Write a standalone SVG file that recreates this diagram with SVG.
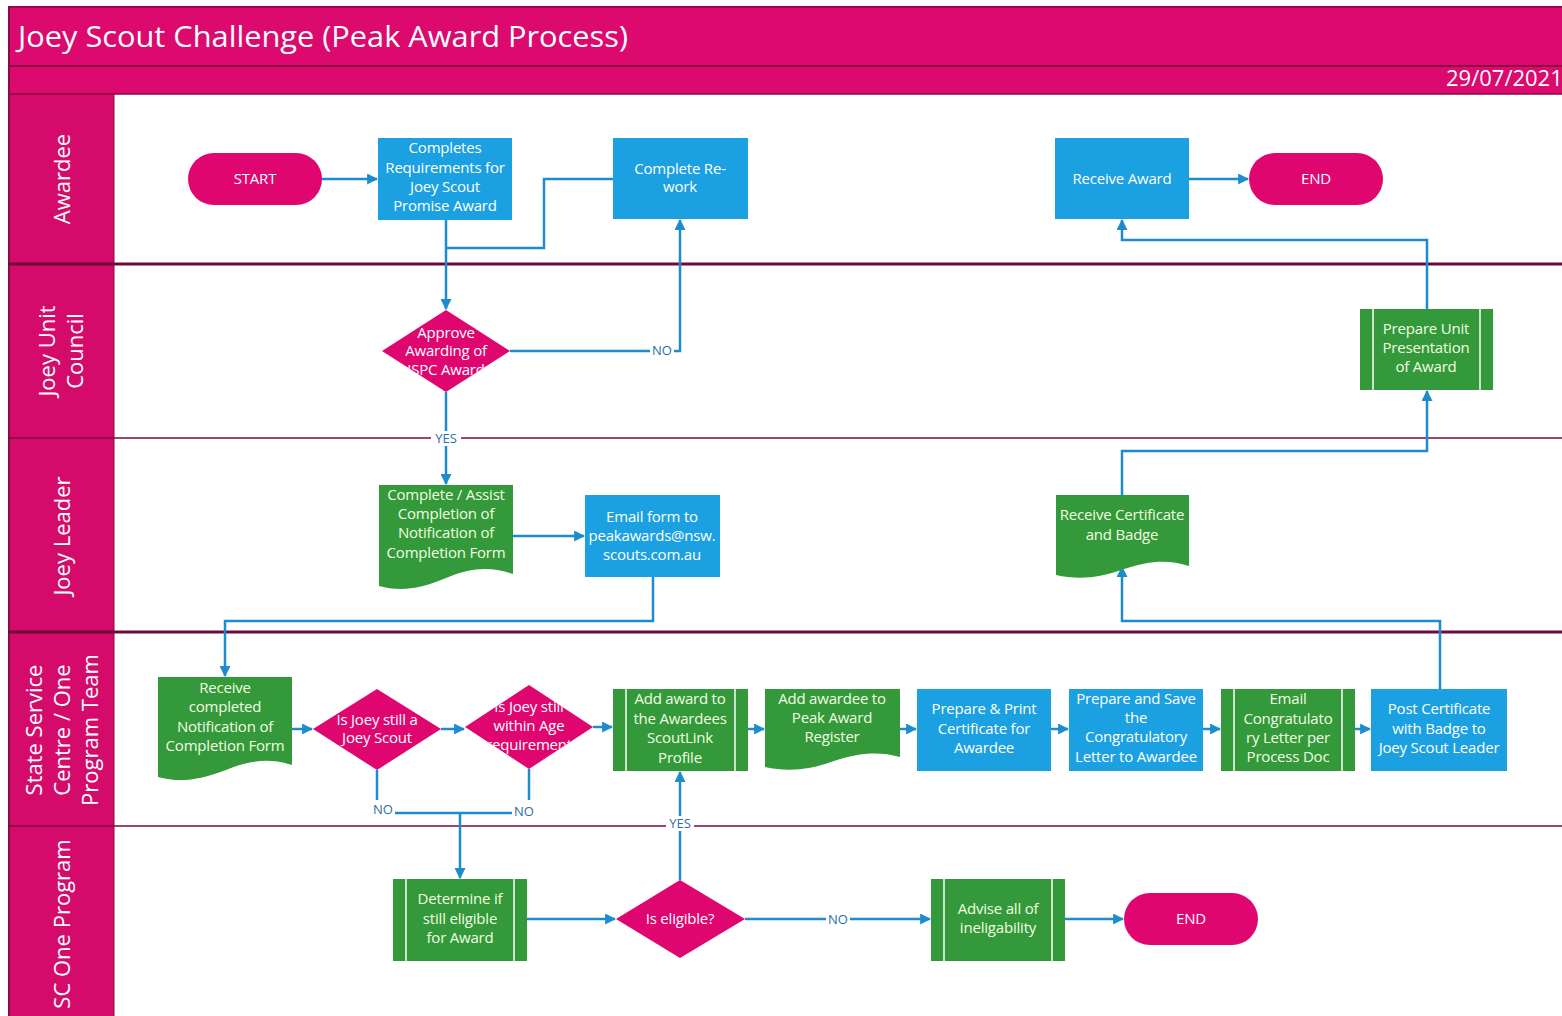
<svg xmlns="http://www.w3.org/2000/svg" width="1562" height="1016" viewBox="0 0 1562 1016">
<style>
.t{font-family:"Open Sans","Noto Sans",sans-serif;font-size:15px;fill:#ffffff;text-anchor:middle;letter-spacing:-0.2px}
.gt{fill:#f2ffe0}
.lbl{font-family:"Open Sans","Noto Sans",sans-serif;font-size:13px;fill:#2a6fa8;text-anchor:middle}
.lane{font-family:"Open Sans","Noto Sans",sans-serif;font-size:22px;fill:#ffffff;text-anchor:middle}
.blue{fill:#1ba0e2}
.green{fill:#33993a}
.pink{fill:#e0066f}
.sub{stroke:#ffffff;stroke-width:1.5}
.c{fill:none;stroke:#1d8ccc;stroke-width:2.5}
.ca{fill:none;stroke:#1d8ccc;stroke-width:2.5;marker-end:url(#arr)}
.lb{fill:#ffffff}
</style>
<defs>
<marker id="arr" viewBox="0 0 10 10" refX="9" refY="5" markerWidth="11" markerHeight="11" markerUnits="userSpaceOnUse" orient="auto">
<path d="M0,0 L10,5 L0,10 z" fill="#1d8ccc"/>
</marker>
<clipPath id="cd1"><polygon points="446,310 510,351 446,392 382,351"/></clipPath>
<clipPath id="cd2"><polygon points="377,689 441,729 377,770 313,729"/></clipPath>
<clipPath id="cd3"><polygon points="529,685 593,727 529,769 465,727"/></clipPath>
</defs>
<rect x="0" y="0" width="1562" height="1016" fill="#ffffff"/>
<g id="frame">
<rect x="8" y="6" width="1560" height="88" fill="#dc0a6e"/>
<rect x="8" y="94" width="106" height="922" fill="#d50b6c"/>
<line x1="8" y1="66" x2="1562" y2="66" stroke="#8a0a45" stroke-width="2"/>
<line x1="8" y1="94" x2="1562" y2="94" stroke="#8a0a45" stroke-width="1.5"/>
<line x1="9" y1="6" x2="9" y2="1016" stroke="#8a0a45" stroke-width="2"/>
<line x1="8" y1="7" x2="1562" y2="7" stroke="#8a0a45" stroke-width="1.5"/>
<line x1="114" y1="94" x2="114" y2="1016" stroke="#8a0a45" stroke-width="1"/>
<line x1="8" y1="264" x2="1562" y2="264" stroke="#6a0a38" stroke-width="3"/>
<line x1="8" y1="438" x2="1562" y2="438" stroke="#7a0a40" stroke-width="1.5"/>
<line x1="8" y1="632" x2="1562" y2="632" stroke="#6a0a38" stroke-width="3"/>
<line x1="8" y1="826" x2="1562" y2="826" stroke="#7a0a40" stroke-width="1.5"/>
<text x="18" y="47" font-family="'Open Sans','Noto Sans',sans-serif" font-size="30" fill="#ffffff" textLength="610" lengthAdjust="spacingAndGlyphs">Joey Scout Challenge (Peak Award Process)</text>
<text x="1446" y="86" font-family="'Open Sans','Noto Sans',sans-serif" font-size="22" fill="#ffffff">29/07/2021</text>
<text class="lane" transform="translate(70,179) rotate(-90)">Awardee</text>
<text class="lane" transform="translate(55,351) rotate(-90)">Joey Unit</text>
<text class="lane" transform="translate(83,351) rotate(-90)">Council</text>
<text class="lane" transform="translate(70,536) rotate(-90)">Joey Leader</text>
<text class="lane" transform="translate(42,730) rotate(-90)">State Service</text>
<text class="lane" transform="translate(70,730) rotate(-90)">Centre / One</text>
<text class="lane" transform="translate(98,730) rotate(-90)">Program Team</text>
<text class="lane" transform="translate(70,924) rotate(-90)">SC One Program</text>
</g>
<g id="connectors">
<path class="ca" d="M322,179 H377"/>
<path class="ca" d="M446,220 V309"/>
<path class="c" d="M613,179 H544 V248 H446" stroke-width="2"/>
<path class="ca" d="M510,351 H680 V220"/>
<rect class="lb" x="650" y="343" width="24" height="15"/>
<text class="lbl" x="662" y="355">NO</text>
<path class="ca" d="M446,392 V484"/>
<rect class="lb" x="431" y="431" width="30" height="15"/>
<text class="lbl" x="446" y="443">YES</text>
<path class="ca" d="M513,536 H584"/>
<path class="ca" d="M653,577 V621 H225 V676"/>
<path class="ca" d="M292,729 H312"/>
<path class="ca" d="M441,729 H464"/>
<path class="ca" d="M593,727 H612"/>
<path class="ca" d="M748,729 H764"/>
<path class="ca" d="M900,729 H916"/>
<path class="ca" d="M1051,729 H1068"/>
<path class="ca" d="M1203,729 H1220"/>
<path class="ca" d="M1355,729 H1370"/>
<path class="ca" d="M1440,689 V621 H1122 V567"/>
<path class="ca" d="M1122,495 V451 H1427 V391"/>
<path class="ca" d="M1427,309 V240 H1122 V220"/>
<path class="ca" d="M1189,179 H1248"/>
<path class="c" d="M377,770 V800"/>
<path class="c" d="M529,769 V800"/>
<path class="c" d="M395,813 H512" stroke-width="1.5"/>
<path class="ca" d="M460,813 V878"/>
<text class="lbl" x="383" y="814">NO</text>
<text class="lbl" x="524" y="816">NO</text>
<path class="ca" d="M680,880 V772"/>
<rect class="lb" x="666" y="816" width="28" height="15"/>
<text class="lbl" x="680" y="828">YES</text>
<path class="ca" d="M527,919 H615"/>
<path class="ca" d="M745,919 H930"/>
<rect class="lb" x="826" y="912" width="24" height="15"/>
<text class="lbl" x="838" y="924">NO</text>
<path class="ca" d="M1065,919 H1123"/>
</g>
<g id="start">
<rect class="pink" x="188" y="153" width="134" height="52" rx="26"/>
<text class="t" x="255" y="184">START</text>
</g>
<g id="completes-requirements">
<rect class="blue" x="378" y="138" width="134" height="82"/>
<text class="t" x="445" y="153">Completes</text>
<text class="t" x="445" y="173">Requirements for</text>
<text class="t" x="445" y="192">Joey Scout</text>
<text class="t" x="445" y="211">Promise Award</text>
</g>
<g id="complete-rework">
<rect class="blue" x="613" y="138" width="135" height="81"/>
<text class="t" x="680" y="174">Complete Re-</text>
<text class="t" x="680" y="192">work</text>
</g>
<g id="receive-award">
<rect class="blue" x="1055" y="138" width="134" height="81"/>
<text class="t" x="1122" y="184">Receive Award</text>
</g>
<g id="end-top">
<rect class="pink" x="1249" y="153" width="134" height="52" rx="26"/>
<text class="t" x="1316" y="184">END</text>
</g>
<g id="approve-awarding">
<polygon class="pink" points="446,310 510,351 446,392 382,351"/>
<g clip-path="url(#cd1)">
<text class="t" x="446" y="338">Approve</text>
<text class="t" x="446" y="356">Awarding of</text>
<text class="t" x="446" y="375">JSPC Award</text>
</g>
</g>
<g id="prepare-unit-presentation">
<rect class="green" x="1360" y="309" width="133" height="81"/>
<line class="sub" x1="1373" y1="309" x2="1373" y2="390"/>
<line class="sub" x1="1480" y1="309" x2="1480" y2="390"/>
<text class="t gt" x="1426" y="334">Prepare Unit</text>
<text class="t gt" x="1426" y="353">Presentation</text>
<text class="t gt" x="1426" y="372">of Award</text>
</g>
<g id="complete-assist-form">
<path class="green" d="M379,485 H513 V574 C490,566 470,568 446,578 C420,589 400,592 379,586 Z"/>
<text class="t gt" x="446" y="500">Complete / Assist</text>
<text class="t gt" x="446" y="519">Completion of</text>
<text class="t gt" x="446" y="538">Notification of</text>
<text class="t gt" x="446" y="558">Completion Form</text>
</g>
<g id="email-form">
<rect class="blue" x="585" y="495" width="135" height="82"/>
<text class="t" x="652" y="522">Email form to</text>
<text class="t" x="652" y="541">peakawards@nsw.</text>
<text class="t" x="652" y="560">scouts.com.au</text>
</g>
<g id="receive-certificate-badge">
<path class="green" d="M1056,495 H1189 V566 C1168,559 1148,561 1124,569 C1100,578 1078,580 1056,575 Z"/>
<text class="t gt" x="1122" y="520">Receive Certificate</text>
<text class="t gt" x="1122" y="540">and Badge</text>
</g>
<g id="receive-completed-form">
<path class="green" d="M158,677 H292 V765 C270,758 250,760 226,770 C200,780 180,783 158,777 Z"/>
<text class="t gt" x="225" y="693">Receive</text>
<text class="t gt" x="225" y="712">completed</text>
<text class="t gt" x="225" y="732">Notification of</text>
<text class="t gt" x="225" y="751">Completion Form</text>
</g>
<g id="is-joey-scout">
<polygon class="pink" points="377,689 441,729 377,770 313,729"/>
<g clip-path="url(#cd2)">
<text class="t" x="377" y="725">Is Joey still a</text>
<text class="t" x="377" y="743">Joey Scout</text>
</g>
</g>
<g id="is-joey-age">
<polygon class="pink" points="529,685 593,727 529,769 465,727"/>
<g clip-path="url(#cd3)">
<text class="t" x="529" y="712">Is Joey still</text>
<text class="t" x="529" y="731">within Age</text>
<text class="t" x="529" y="750">requirement</text>
</g>
</g>
<g id="add-award-profile">
<rect class="green" x="613" y="689" width="135" height="82"/>
<line class="sub" x1="626" y1="689" x2="626" y2="771"/>
<line class="sub" x1="735" y1="689" x2="735" y2="771"/>
<text class="t gt" x="680" y="704">Add award to</text>
<text class="t gt" x="680" y="724">the Awardees</text>
<text class="t gt" x="680" y="743">ScoutLink</text>
<text class="t gt" x="680" y="763">Profile</text>
</g>
<g id="add-awardee-register">
<path class="green" d="M765,689 H900 V757 C878,751 858,753 834,761 C810,770 788,772 765,767 Z"/>
<text class="t gt" x="832" y="704">Add awardee to</text>
<text class="t gt" x="832" y="723">Peak Award</text>
<text class="t gt" x="832" y="742">Register</text>
</g>
<g id="prepare-print-certificate">
<rect class="blue" x="917" y="689" width="134" height="82"/>
<text class="t" x="984" y="714">Prepare &amp; Print</text>
<text class="t" x="984" y="734">Certificate for</text>
<text class="t" x="984" y="753">Awardee</text>
</g>
<g id="prepare-save-letter">
<rect class="blue" x="1069" y="689" width="134" height="82"/>
<text class="t" x="1136" y="704">Prepare and Save</text>
<text class="t" x="1136" y="723">the</text>
<text class="t" x="1136" y="742">Congratulatory</text>
<text class="t" x="1136" y="762">Letter to Awardee</text>
</g>
<g id="email-congratulatory-letter">
<rect class="green" x="1221" y="689" width="134" height="82"/>
<line class="sub" x1="1234" y1="689" x2="1234" y2="771"/>
<line class="sub" x1="1342" y1="689" x2="1342" y2="771"/>
<text class="t gt" x="1288" y="704">Email</text>
<text class="t gt" x="1288" y="724">Congratulato</text>
<text class="t gt" x="1288" y="743">ry Letter per</text>
<text class="t gt" x="1288" y="762">Process Doc</text>
</g>
<g id="post-certificate">
<rect class="blue" x="1371" y="689" width="136" height="82"/>
<text class="t" x="1439" y="714">Post Certificate</text>
<text class="t" x="1439" y="734">with Badge to</text>
<text class="t" x="1439" y="753">Joey Scout Leader</text>
</g>
<g id="determine-eligible">
<rect class="green" x="393" y="879" width="134" height="82"/>
<line class="sub" x1="406" y1="879" x2="406" y2="961"/>
<line class="sub" x1="514" y1="879" x2="514" y2="961"/>
<text class="t gt" x="460" y="904">Determine if</text>
<text class="t gt" x="460" y="924">still eligible</text>
<text class="t gt" x="460" y="943">for Award</text>
</g>
<g id="is-eligible">
<polygon class="pink" points="680,880 745,919 680,958 616,919"/>
<text class="t" x="680" y="924">Is eligible?</text>
</g>
<g id="advise-ineligability">
<rect class="green" x="931" y="879" width="134" height="82"/>
<line class="sub" x1="944" y1="879" x2="944" y2="961"/>
<line class="sub" x1="1052" y1="879" x2="1052" y2="961"/>
<text class="t gt" x="998" y="914">Advise all of</text>
<text class="t gt" x="998" y="933">ineligability</text>
</g>
<g id="end-bottom">
<rect class="pink" x="1124" y="893" width="134" height="52" rx="26"/>
<text class="t" x="1191" y="924">END</text>
</g>
</svg>
